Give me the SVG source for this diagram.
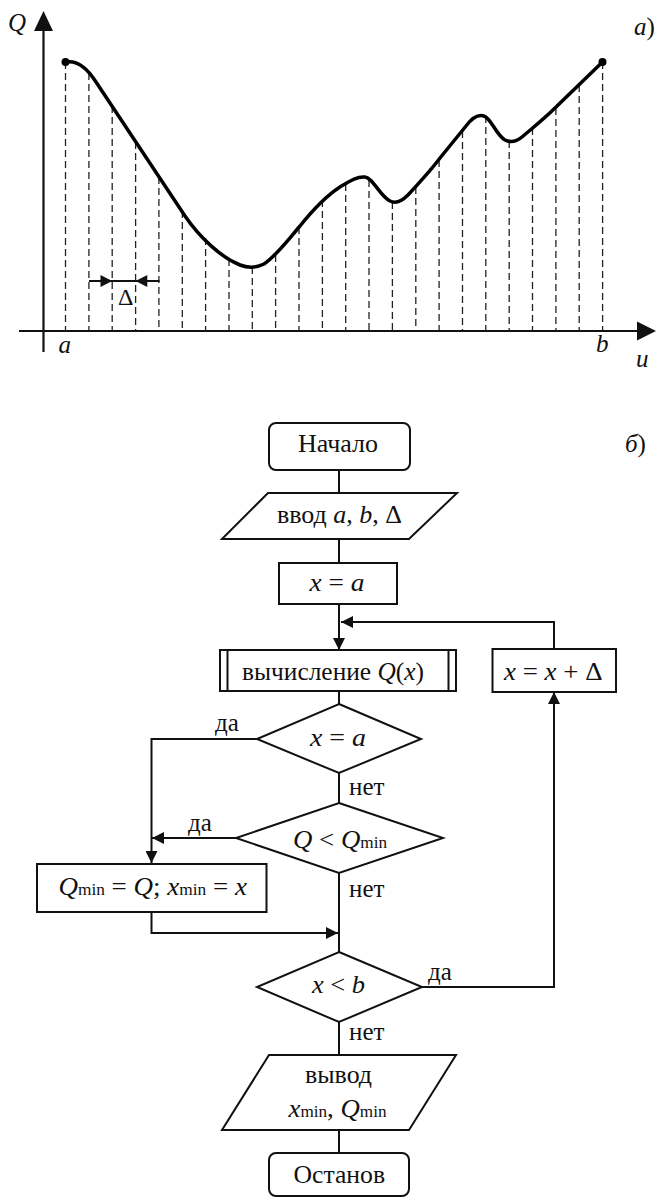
<svg xmlns="http://www.w3.org/2000/svg" width="656" height="1198" viewBox="0 0 656 1198" font-family="'Liberation Serif', 'Times New Roman', Times, 'DejaVu Serif', serif">
<style>
text{font-family:"Liberation Serif","Times New Roman",Times,"DejaVu Serif",serif;font-size:25px;fill:#111}
.i{font-style:italic}
.sub{font-size:16px;font-style:normal}
.shape{fill:#fff;stroke:#111;stroke-width:2}
.ln{fill:none;stroke:#111;stroke-width:2}
.dash{stroke:#222;stroke-width:1.3;stroke-dasharray:7 4}
.axis{stroke:#111;stroke-width:2.2;fill:none}
.curve{fill:none;stroke:#000;stroke-width:3.5;stroke-linejoin:round;stroke-linecap:round}
</style>
<defs>
<marker id="arr" markerUnits="userSpaceOnUse" markerWidth="13" markerHeight="12" refX="12" refY="6" orient="auto">
<path d="M0,0 L12,6 L0,12 Z" fill="#111"/>
</marker>
</defs>

<g id="graph">
<g id="dashes">
<line class="dash" x1="65.5" y1="62" x2="65.5" y2="331"/>
<line class="dash" x1="88.9" y1="73" x2="88.9" y2="331"/>
<line class="dash" x1="112.2" y1="106" x2="112.2" y2="331"/>
<line class="dash" x1="135.6" y1="142" x2="135.6" y2="331"/>
<line class="dash" x1="158.9" y1="177" x2="158.9" y2="331"/>
<line class="dash" x1="182.3" y1="211" x2="182.3" y2="331"/>
<line class="dash" x1="205.6" y1="238" x2="205.6" y2="331"/>
<line class="dash" x1="229" y1="259" x2="229" y2="331"/>
<line class="dash" x1="252.3" y1="267" x2="252.3" y2="331"/>
<line class="dash" x1="275.6" y1="255" x2="275.6" y2="331"/>
<line class="dash" x1="299" y1="227" x2="299" y2="331"/>
<line class="dash" x1="322.4" y1="200" x2="322.4" y2="331"/>
<line class="dash" x1="345.7" y1="184" x2="345.7" y2="331"/>
<line class="dash" x1="369" y1="180" x2="369" y2="331"/>
<line class="dash" x1="392.4" y1="202" x2="392.4" y2="331"/>
<line class="dash" x1="415.8" y1="187" x2="415.8" y2="331"/>
<line class="dash" x1="439.1" y1="160" x2="439.1" y2="331"/>
<line class="dash" x1="462.5" y1="131" x2="462.5" y2="331"/>
<line class="dash" x1="485.8" y1="116" x2="485.8" y2="331"/>
<line class="dash" x1="509.2" y1="141" x2="509.2" y2="331"/>
<line class="dash" x1="532.5" y1="128" x2="532.5" y2="331"/>
<line class="dash" x1="555.9" y1="108" x2="555.9" y2="331"/>
<line class="dash" x1="579.2" y1="85" x2="579.2" y2="331"/>
<line class="dash" x1="602.6" y1="62" x2="602.6" y2="331"/>
</g>
<line class="axis" x1="43.5" y1="30" x2="43.5" y2="352"/>
<path d="M43.5,11 L53,31 L34,31 Z" fill="#111"/>
<line class="axis" x1="19" y1="331" x2="638" y2="331"/>
<path d="M656,331 L637,321.5 L637,340.5 Z" fill="#111"/>
<path class="curve" d="M65.5,62 C76,60 86,66 96,82 L185,216 C200,238 222,258 240,265 C248,268 256,268 264,264 C276,256 288,240 300,226 C312,211 326,196 340,187 C350,181 358,176 365,177 C373,178 380,196 390,201 C396,204 402,201 408,195 C420,182 432,169 440,158 L466,126 C472,118 478,114 484,116 C491,118 496,135 505,140 C511,143 516,142 522,137 C535,126 545,118 556,107 L602.5,62"/>
<circle cx="65.5" cy="62" r="4" fill="#000"/>
<circle cx="602.5" cy="62" r="4" fill="#000"/>
<line class="ln" x1="89" y1="281" x2="159.5" y2="281" stroke-width="1.8"/>
<path d="M112.2,281 L100.5,275 L100.5,287 Z" fill="#111"/>
<path d="M135.6,281 L147.3,275 L147.3,287 Z" fill="#111"/>
<text x="125.7" y="305" text-anchor="middle" style="font-size:24px">Δ</text>
<text class="i" x="8" y="31">Q</text>
<text class="i" x="58.5" y="353">a</text>
<text class="i" x="596" y="352">b</text>
<text class="i" x="636" y="367">u</text>
<text x="634" y="35"><tspan class="i">а</tspan>)</text>
</g>

<g id="connectors">
<path class="ln" d="M339,470 V493"/>
<path class="ln" d="M339,539 V563"/>
<path class="ln" d="M339,604 V650" marker-end="url(#arr)"/>
<path class="ln" d="M339,691 V704"/>
<path class="ln" d="M257,739 H151.5 V863" marker-end="url(#arr)"/>
<path class="ln" d="M339,773 V803"/>
<path class="ln" d="M236,838 H152" marker-end="url(#arr)"/>
<path class="ln" d="M339,873 V952"/>
<path class="ln" d="M151.5,912 V933 H338" marker-end="url(#arr)"/>
<path class="ln" d="M422,987 H554 V692" marker-end="url(#arr)"/>
<path class="ln" d="M554,649 V622 H341" marker-end="url(#arr)"/>
<path class="ln" d="M339,1022 V1055"/>
<path class="ln" d="M339,1130 V1153"/>
<text x="215" y="731">да</text>
<text x="349" y="795">нет</text>
<text x="188" y="831">да</text>
<text x="349" y="897">нет</text>
<text x="428" y="980">да</text>
<text x="349" y="1040">нет</text>
</g>

<g id="start">
<rect class="shape" x="269" y="423" width="141" height="47" rx="7"/>
<text x="298" y="452" textLength="80" lengthAdjust="spacingAndGlyphs">Начало</text>
</g>
<g id="input">
<polygon class="shape" points="268,493 457,493 409,539 222,539"/>
<text x="277" y="523" textLength="125" lengthAdjust="spacingAndGlyphs">ввод <tspan class="i">a</tspan>, <tspan class="i">b</tspan>, Δ</text>
</g>
<g id="init">
<rect class="shape" x="279" y="563" width="118" height="41"/>
<text x="309.5" y="591" textLength="55" lengthAdjust="spacingAndGlyphs"><tspan class="i">x</tspan> = <tspan class="i">a</tspan></text>
</g>
<g id="compute">
<rect class="shape" x="220" y="650" width="236" height="41"/>
<line class="ln" x1="227.5" y1="650" x2="227.5" y2="691"/>
<line class="ln" x1="448.5" y1="650" x2="448.5" y2="691"/>
<text x="242" y="680" textLength="182" lengthAdjust="spacingAndGlyphs">вычисление <tspan class="i">Q</tspan>(<tspan class="i">x</tspan>)</text>
</g>
<g id="increment">
<rect class="shape" x="492.5" y="649" width="123.5" height="43"/>
<text x="504" y="680" textLength="98.5" lengthAdjust="spacingAndGlyphs"><tspan class="i">x</tspan> = <tspan class="i">x</tspan> + Δ</text>
</g>
<g id="cond1">
<polygon class="shape" points="339,704 421,739 339,773 257,739"/>
<text x="310" y="746" textLength="56" lengthAdjust="spacingAndGlyphs"><tspan class="i">x</tspan> = <tspan class="i">a</tspan></text>
</g>
<g id="cond2">
<polygon class="shape" points="339,803 443,838 339,873 236,838"/>
<text x="293" y="848" textLength="94" lengthAdjust="spacingAndGlyphs"><tspan class="i">Q</tspan> &lt; <tspan class="i">Q</tspan><tspan class="sub">min</tspan></text>
</g>
<g id="assign">
<rect class="shape" x="37" y="864" width="229.5" height="48"/>
<text x="58.5" y="895" textLength="188.5" lengthAdjust="spacingAndGlyphs"><tspan class="i">Q</tspan><tspan class="sub">min</tspan> = <tspan class="i">Q</tspan>; <tspan class="i">x</tspan><tspan class="sub">min</tspan> = <tspan class="i">x</tspan></text>
</g>
<g id="cond3">
<polygon class="shape" points="339,952 422,987 339,1022 257,987"/>
<text x="312" y="993" textLength="53" lengthAdjust="spacingAndGlyphs"><tspan class="i">x</tspan> &lt; <tspan class="i">b</tspan></text>
</g>
<g id="output">
<polygon class="shape" points="269,1055 456,1055 409,1130 222,1130"/>
<text x="305" y="1083" textLength="67" lengthAdjust="spacingAndGlyphs">вывод</text>
<text x="288.5" y="1117" textLength="98" lengthAdjust="spacingAndGlyphs"><tspan class="i">x</tspan><tspan class="sub">min</tspan>, <tspan class="i">Q</tspan><tspan class="sub">min</tspan></text>
</g>
<g id="stop">
<rect class="shape" x="269" y="1153" width="140" height="43" rx="7"/>
<text x="293.5" y="1183" textLength="91.5" lengthAdjust="spacingAndGlyphs">Останов</text>
</g>
<text x="625" y="452"><tspan class="i">б</tspan>)</text>
</svg>
